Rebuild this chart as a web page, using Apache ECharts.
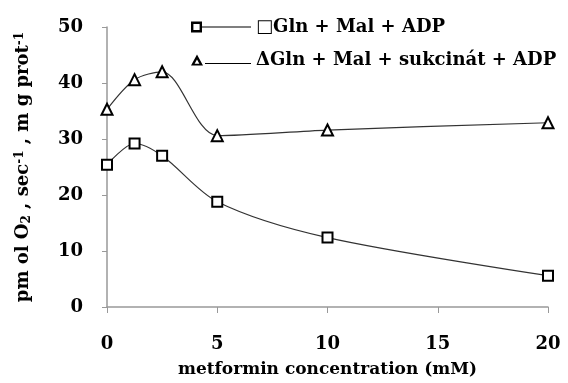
<!DOCTYPE html>
<html>
<head>
<meta charset="utf-8">
<script src="https://cdn.jsdelivr.net/npm/echarts@6/dist/echarts.min.js"></script>
<style>
  html, body { margin: 0; padding: 0; background: #fff; }
  #chart { width: 568px; height: 383px; }
</style>
</head>
<body>
<div id="chart"></div>
<script>
// metformin concentration (mM)
const conc = [0, 1.25, 2.5, 5, 10, 20];
// Gln + Mal + ADP
const glnMalAdp = [25.4, 29.2, 27.0, 18.8, 12.4, 5.6];
// Gln + Mal + sukcinát + ADP
const glnMalSuccAdp = [35.3, 40.6, 42.0, 30.6, 31.6, 32.9];
const seriesNames = ['Gln + Mal + ADP', 'Gln + Mal + sukcinát + ADP'];
const legendMarks = ['□', 'Δ'];
const xTicks = [0, 5, 10, 15, 20];
const yTicks = [0, 10, 20, 30, 40, 50];

const font = 'DejaVu Serif';
const chart = echarts.init(document.getElementById('chart'), null, { renderer: 'canvas' });

// legend icons: marker + short line, like the original
const squareIcon = 'path://M0,0 L11,0 L11,11 L0,11 Z M2.4,2.4 L2.4,8.6 L8.6,8.6 L8.6,2.4 Z M11,5 L60,5 L60,6 L11,6 Z';
const triIcon = 'path://M6,0 L12,11 L0,11 Z M6,5 L3.6,9.2 L8.4,9.2 Z M14,8.5 L60,8.5 L60,9.5 L14,9.5 Z';

function toPairs(ys) {
  return conc.map((x, i) => [x, ys[i]]);
}

const option = {
  backgroundColor: '#fff',
  animation: false,
  grid: { left: 107, right: 20, top: 27, bottom: 74 },
  legend: {
    orient: 'vertical',
    left: 186,
    top: 13,
    itemGap: 15,
    itemWidth: 60,
    itemHeight: 11,
    data: [
      { name: seriesNames[0], icon: squareIcon },
      { name: seriesNames[1], icon: triIcon }
    ],
    itemStyle: { color: '#000', borderWidth: 0 },
    formatter: name => legendMarks[seriesNames.indexOf(name)] + name,
    textStyle: { fontFamily: font, fontWeight: 'bold', fontSize: 18, color: '#000' }
  },
  xAxis: {
    type: 'value',
    min: xTicks[0],
    max: xTicks[xTicks.length - 1],
    interval: 5,
    name: 'metformin concentration (mM)',
    nameLocation: 'middle',
    nameGap: 54,
    nameTextStyle: { fontFamily: font, fontWeight: 'bold', fontSize: 17, color: '#000' },
    axisLine: { lineStyle: { color: '#999', width: 1.5 } },
    axisTick: { show: true, length: 6, lineStyle: { color: '#999' } },
    axisLabel: { margin: 28, fontFamily: font, fontWeight: 'bold', fontSize: 18, color: '#000' },
    splitLine: { show: false }
  },
  yAxis: {
    type: 'value',
    min: yTicks[0],
    max: yTicks[yTicks.length - 1],
    interval: 10,
    name: 'pm ol O{sub|2} , sec{sup|-1} , m g prot{sup|-1}',
    nameLocation: 'middle',
    nameGap: 74,
    nameTextStyle: {
      fontFamily: font, fontWeight: 'bold', fontSize: 18, color: '#000',
      rich: {
        sub: { fontFamily: font, fontWeight: 'bold', fontSize: 12, color: '#000', verticalAlign: 'bottom', padding: [7, 0, 0, 0] },
        sup: { fontFamily: font, fontWeight: 'bold', fontSize: 12, color: '#000', verticalAlign: 'top', padding: [0, 0, 7, 0] }
      }
    },
    axisLine: { show: true, lineStyle: { color: '#999', width: 1.5 } },
    axisTick: { show: true, inside: false, length: 5, lineStyle: { color: '#999' } },
    axisLabel: { margin: 24, fontFamily: font, fontWeight: 'bold', fontSize: 18, color: '#000' },
    splitLine: { show: false }
  },
  series: [
    {
      name: seriesNames[0],
      type: 'line',
      smooth: 0.3,
      data: toPairs(glnMalAdp),
      symbol: 'emptyRect',
      symbolSize: 10,
      lineStyle: { color: '#333', width: 1.2 },
      itemStyle: { color: '#000', borderColor: '#000', borderWidth: 2.5 },
      z: 3
    },
    {
      name: seriesNames[1],
      type: 'line',
      smooth: 0.3,
      data: toPairs(glnMalSuccAdp),
      symbol: 'emptyTriangle',
      symbolSize: 11,
      lineStyle: { color: '#333', width: 1.2 },
      itemStyle: { color: '#000', borderColor: '#000', borderWidth: 2.5 },
      z: 3
    }
  ]
};

chart.setOption(option);
</script>
</body>
</html>
